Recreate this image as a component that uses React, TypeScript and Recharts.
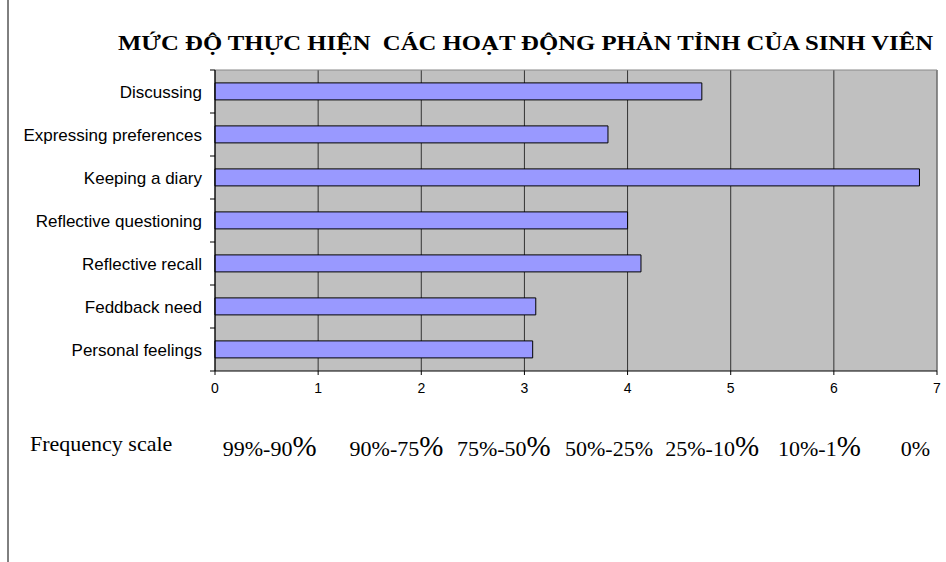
import React from 'react'
import {
  BarChart,
  Bar,
  XAxis,
  YAxis,
  CartesianGrid,
  ReferenceLine
} from 'recharts'

const activities = [
  'Discussing',
  'Expressing preferences',
  'Keeping a diary',
  'Reflective questioning',
  'Reflective recall',
  'Feddback need',
  'Personal feelings'
]
const scores = [4.72, 3.81, 6.83, 4.0, 4.13, 3.11, 3.08]
const xTicks = [0, 1, 2, 3, 4, 5, 6, 7]
const freqLabels = ['99%-90%', '90%-75%', '75%-50%', '50%-25%', '25%-10%', '10%-1%', '0%']
const freqBigPercent = [true, true, true, false, true, true, false]
// where each frequency label sits, in units of the score axis
const freqPos = [0.53, 1.76, 2.8, 3.82, 4.82, 5.86, 6.79]

const data = activities.map((name, i) => ({ name, value: scores[i] }))

const serif = '"Liberation Serif", "Times New Roman", serif'
const sans = '"Liberation Sans", Arial, sans-serif'

const renderFreqTick = (props: any) => {
  const { x, y, index } = props
  const label = freqLabels[index] ?? ''
  const big = freqBigPercent[index]
  const head = big ? label.slice(0, -1) : label
  return (
    <text key={index} x={x} y={y + 55} textAnchor='middle' fontFamily={serif} fontSize={22} fill='#000'>
      <tspan>{head}</tspan>
      {big && <tspan fontSize={29}>%</tspan>}
    </text>
  )
}

// category label plus the small tick marks on the band edges
const renderCategoryTick = (props: any) => {
  const { x, y, payload, index, visibleTicksCount } = props
  const half = payload?.offset ?? 0
  const axisX = x + 13
  return (
    <g key={index}>
      <line x1={axisX - 5} x2={axisX} y1={y - half} y2={y - half} stroke='#000' />
      {index === visibleTicksCount - 1 && (
        <line x1={axisX - 5} x2={axisX} y1={y + half} y2={y + half} stroke='#000' />
      )}
      <text x={x} y={y} dy='0.355em' textAnchor='end' fontFamily={sans} fontSize={17} fill='#000'>
        {payload.value}
      </text>
    </g>
  )
}

export default function App() {
  return (
    <div style={{ position: 'absolute', left: 0, top: 0, width: 946, height: 562, background: '#fff' }}>
      <BarChart
        width={946}
        height={562}
        data={data}
        layout='vertical'
        barCategoryGap='30%'
        margin={{ top: 70, right: 9, left: 0, bottom: 81 }}
      >
        <CartesianGrid fill='#c0c0c0' horizontal={false} stroke='#333' />
        <XAxis
          type='number'
          domain={[0, 7]}
          ticks={xTicks}
          interval={0}
          height={30}
          stroke='#000'
          tickSize={4}
          tickMargin={8}
          tick={{ fill: '#000', fontSize: 14, fontFamily: sans }}
        />
        <XAxis
          xAxisId='freq'
          type='number'
          domain={[0, 7]}
          allowDataOverflow
          ticks={freqPos}
          interval={0}
          height={80}
          axisLine={false}
          tickLine={false}
          tickSize={0}
          tickMargin={0}
          tick={renderFreqTick}
        />
        <YAxis
          type='category'
          dataKey='name'
          width={215}
          stroke='#000'
          interval={0}
          tickLine={false}
          tickSize={6}
          tickMargin={7}
          tick={renderCategoryTick}
        />
        <ReferenceLine x={7} stroke='#888' />
        <Bar
          dataKey='value'
          fill='#9999ff'
          stroke='#000'
          strokeWidth={1}
          isAnimationActive={false}
        />
        <line x1={215} y1={70} x2={937} y2={70} stroke='#888' />
        <line x1={8} y1={0} x2={8} y2={562} stroke='#000' />
        <text x={118} y={50} fontFamily={serif} fontWeight='bold' fontSize={22} fill='#000' textLength={815} lengthAdjust='spacingAndGlyphs' style={{ whiteSpace: 'pre' }}>
          MỨC ĐỘ THỰC HIỆN  CÁC HOẠT ĐỘNG PHẢN TỈNH CỦA SINH VIÊN
        </text>
        <text x={30} y={451} fontFamily={serif} fontSize={22} fill='#000'>
          Frequency scale
        </text>
      </BarChart>
    </div>
  )
}
